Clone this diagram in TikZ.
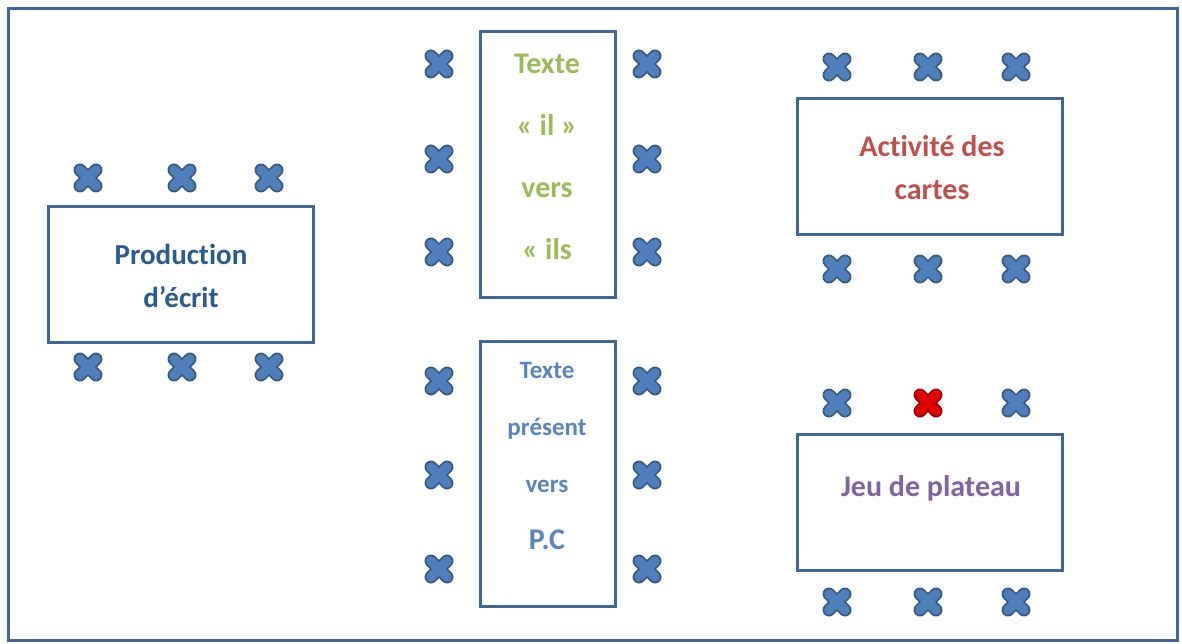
\documentclass[tikz,border=0pt]{standalone}
\usepackage{fontspec}
\setmainfont{Carlito}[Ligatures={NoCommon}]
\definecolor{framecol}{HTML}{41669C}
\definecolor{seatfill}{HTML}{4F7FBA}
\definecolor{seatred}{HTML}{E00000}
\definecolor{prodcol}{HTML}{2C5A8E}
\definecolor{ilcol}{HTML}{9BBB59}
\definecolor{pccol}{HTML}{5B84BD}
\definecolor{cartecol}{HTML}{C0504D}
\definecolor{jeucol}{HTML}{8064A2}

\begin{document}
\begin{tikzpicture}[
    x=1pt, y=-1pt,
    tablebox/.style={draw=framecol, line width=3pt, rectangle, inner sep=0pt},
    wide/.style={tablebox, minimum width=265pt, minimum height=136pt},
    tall/.style={tablebox, minimum width=135pt, minimum height=265pt},
    tabletext/.style={align=center, font=\bfseries},
    seat/.pic={
      \draw[line width=13pt, line cap=round, #1!70!black] (-8,-8) -- (8,8) (-8,8) -- (8,-8);
      \draw[line width=9.5pt, line cap=round, #1] (-8,-8) -- (8,8) (-8,8) -- (8,-8);
    }
  ]

  % page and outer frame
  \useasboundingbox (0,0) rectangle (1182,644);
  \draw[framecol, line width=3pt] (8,9) rectangle (1177,640);

  % tables
  \node[wide] (prod) at (180.5,274.5) {};
  \node[tall] (il) at (547.5,164.5) {};
  \node[tall] (pc) at (547.5,473.5) {};
  \node[wide] (cartes) at (929.5,166.5) {};
  \node[wide] (jeu) at (929.5,502.5) {};

  % table labels
  \node[tabletext, prodcol, font=\fontsize{29}{43}\selectfont\bfseries] (prodtxt) at (181,276) {Production\\d’écrit};
  \node[tabletext, ilcol, font=\fontsize{30}{62}\selectfont\bfseries] (iltxt) at (547,157) {Texte\\«~il~»\\vers\\«~ils};
  \node[tabletext, pccol, font=\fontsize{25}{57}\selectfont\bfseries] (pctxt) at (547,456) {Texte\\présent\\vers\\{\fontsize{30}{57}\selectfont P.C}};
  \node[tabletext, cartecol, font=\fontsize{30}{43}\selectfont\bfseries] (cartestxt) at (932,168) {Activité des\\cartes};
  \node[tabletext, jeucol, font=\fontsize{30}{43}\selectfont\bfseries] (jeutxt) at (931,488) {Jeu de plateau};

  % seats round the tables
  \foreach \x in {88,182,269}
    \foreach \y in {178,367}
      \pic at (\x,\y) {seat=seatfill};
  \foreach \x in {439,647}
    \foreach \y in {64,159,252,381,475,569}
      \pic at (\x,\y) {seat=seatfill};
  \foreach \x in {837,928,1016}
    \foreach \y in {67,269,602}
      \pic at (\x,\y) {seat=seatfill};
  \foreach \x in {837,1016}
    \pic at (\x,403) {seat=seatfill};
  \pic at (928,403) {seat=seatred};

\end{tikzpicture}
\end{document}
